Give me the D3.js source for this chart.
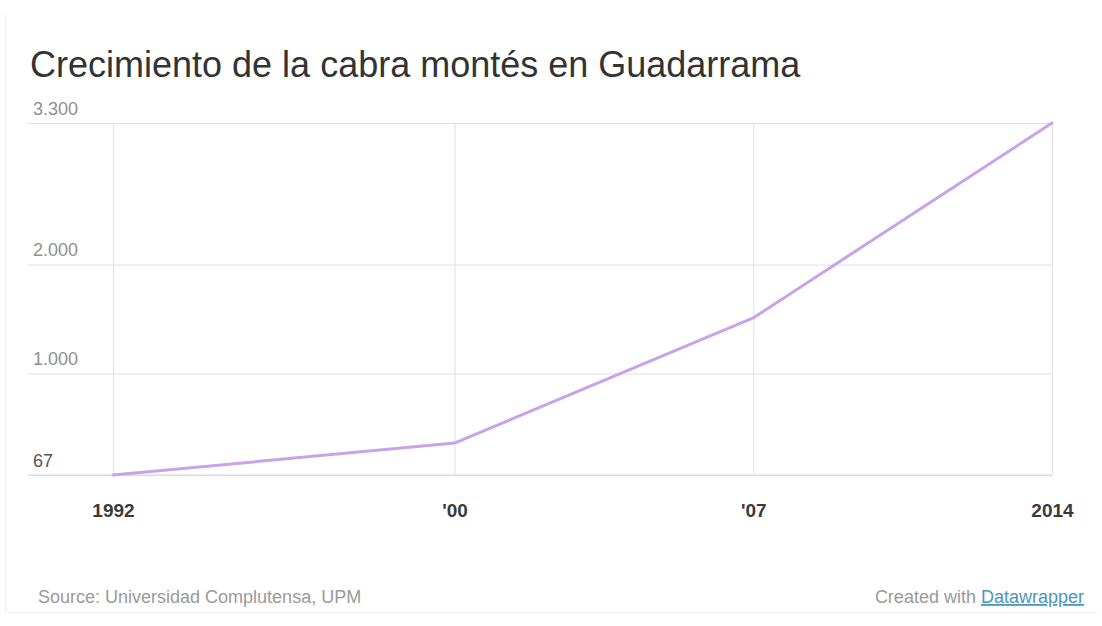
<!DOCTYPE html>
<html>
<head>
<meta charset="utf-8">
<script src="https://cdn.jsdelivr.net/npm/d3@7"></script>
<style>
  body { margin: 0; background: #fff; font-family: "Liberation Sans", Arial, Helvetica, sans-serif; }
  .grid line { stroke: #e0e0e0; }
  .grid .domain { display: none; }
  .y-grid text { fill: #8a8a8a; font-size: 18px; }
  .x-grid text { fill: #3a3a3a; font-size: 19px; font-weight: bold; }
</style>
</head>
<body>
<svg id="chart"></svg>
<script>
// data
const years = [1992, 2000, 2007, 2014];
const goats = [67, 360, 1510, 3300];
const xTickLabels = ["1992", "'00", "'07", "2014"];
const yTicks = [67, 1000, 2000, 3300];

const W = 1102, H = 626;
const plot = {left: 28, x0: 113, x1: 1052, top: 123, bottom: 475};

const svg = d3.select('#chart').attr('width', W).attr('height', H);

// faint frame of the embed
svg.append('path')
    .attr('d', `M5.5,14 V612.5 H1097`)
    .attr('fill', 'none')
    .attr('stroke', '#f0f0f0');

const esLocale = d3.formatLocale({decimal: ',', thousands: '.', grouping: [3], currency: ['', ' €']});
const fmt = esLocale.format(',d');

const x = d3.scaleLinear().domain([1992, 2014]).range([plot.x0, plot.x1]);
const y = d3.scaleLinear().domain([67, 3300]).range([plot.bottom, plot.top]);

svg.append('text')
    .attr('x', 30)
    .attr('y', 77)
    .attr('fill', '#333')
    .style('font-size', '36px')
    .text('Crecimiento de la cabra montés en Guadarrama');

// horizontal grid + value labels sitting above the lines
const yAxis = d3.axisLeft(y)
    .tickValues(yTicks)
    .tickSize(-(plot.x1 - plot.left))
    .tickFormat(fmt);

const yG = svg.append('g')
    .attr('class', 'grid y-grid')
    .attr('transform', `translate(${plot.left},0)`)
    .call(yAxis);
yG.selectAll('text')
    .attr('x', 5)
    .attr('dy', 0)
    .attr('y', -9)
    .style('text-anchor', 'start')
    .style('fill', d => d === 67 ? '#555' : '#8f8f8f');

// vertical grid + year labels
const xAxis = d3.axisBottom(x)
    .tickValues(years)
    .tickSize(-(plot.bottom - plot.top))
    .tickFormat((d, i) => xTickLabels[i]);

const xG = svg.append('g')
    .attr('class', 'grid x-grid')
    .attr('transform', `translate(0,${plot.bottom})`)
    .call(xAxis);
xG.selectAll('text').attr('y', 29);

// baseline a bit darker
svg.append('line')
    .attr('x1', plot.left).attr('x2', plot.x1)
    .attr('y1', y(67)).attr('y2', y(67))
    .attr('stroke', '#d6d6d6');

const line = d3.line()
    .x((d, i) => x(years[i]))
    .y(d => y(d));

svg.append('path')
    .datum(goats)
    .attr('d', line)
    .attr('fill', 'none')
    .attr('stroke', '#c9a3ea')
    .attr('stroke-width', 3)
    .attr('stroke-linejoin', 'round')
    .attr('stroke-linecap', 'round');

// footer
svg.append('text')
    .attr('x', 38)
    .attr('y', 603)
    .attr('fill', '#9a9a9a')
    .style('font-size', '18px')
    .text('Source: Universidad Complutensa, UPM');

const credit = svg.append('text')
    .attr('x', 1084)
    .attr('y', 603)
    .attr('text-anchor', 'end')
    .attr('fill', '#9a9a9a')
    .style('font-size', '18px');
credit.append('tspan').text('Created with ');
credit.append('tspan')
    .attr('fill', '#4b95bd')
    .style('text-decoration', 'underline')
    .text('Datawrapper');
</script>
</body>
</html>
